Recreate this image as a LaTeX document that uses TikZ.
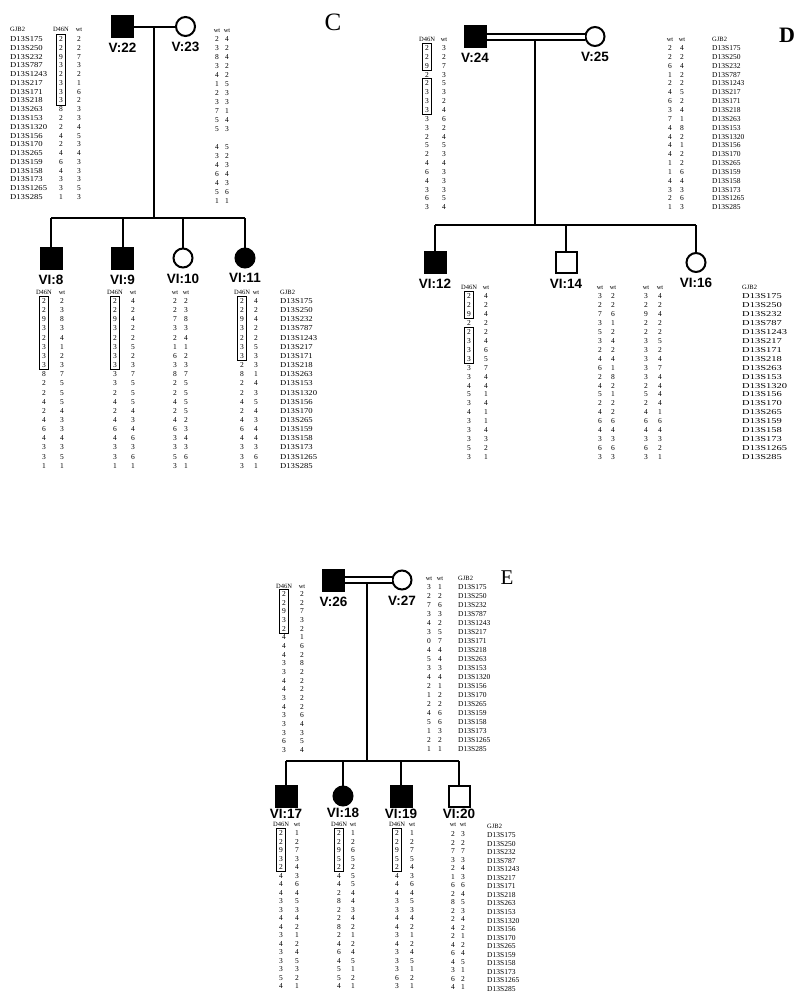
\documentclass[tikz,border=0pt]{standalone}
\usepackage{fontspec}
\setmainfont{Liberation Serif}
\newfontfamily\labfont{Liberation Sans}
\newfontfamily\mkmid[FakeStretch=1.15]{Liberation Serif}
\newfontfamily\mkwide[FakeStretch=1.4]{Liberation Serif}
\usetikzlibrary{positioning, fit}
\tikzstyle{ped}=[line width=2pt]
\tikzstyle{cons}=[line width=2pt,double,double distance=4pt]
\tikzstyle{male}=[draw,rectangle,line width=2pt,minimum size=21pt,inner sep=0pt]
\tikzstyle{female}=[draw,circle,line width=2pt,minimum size=19pt,inner sep=0pt]
\tikzstyle{afm}=[male,fill=black]
\tikzstyle{aff}=[female,fill=black]
\tikzstyle{lab}=[font=\labfont\bfseries\fontsize{13.5}{14}\selectfont,inner sep=0pt]
\tikzstyle{hap}=[font=\fontsize{7.5}{8}\selectfont,inner sep=0pt,text height=5pt,text depth=0pt]
\tikzstyle{hd}=[font=\fontsize{6.5}{7}\selectfont,inner sep=0pt,text height=4.5pt,text depth=0pt]
\tikzstyle{hbox}=[draw,line width=0.9pt,inner xsep=2.5pt,inner ysep=2pt]
\tikzstyle{letter}=[inner sep=0pt]

\def\markers{D13S175,D13S250,D13S232,D13S787,D13S1243,D13S217,D13S171,D13S218,D13S263,D13S153,D13S1320,D13S156,D13S170,D13S265,D13S159,D13S158,D13S173,D13S1265,D13S285}

% name, x, y of header, header, y of first row, row step, alleles
\newcommand{\hapcol}[7]{%
  \node[hd] (#1-0) at (#2,#3) {#4};
  \foreach \al [count=\i] in {#7}
    \node[hap] (#1-\i) at (#2,{#5+(\i-1)*#6}) {\al};}
% name, x, y of header, y of first row, row step, font
\newcommand{\mkcol}[6]{%
  \node[hd,anchor=west] (#1-0) at (#2,#3) {GJB2};
  \foreach \m [count=\i] in \markers
    \node[hap,anchor=west,font=#6\fontsize{7.5}{8}\selectfont] (#1-\i) at (#2,{#4+(\i-1)*#5}) {\m};}

\begin{document}
\begin{tikzpicture}[x=1pt,y=-1pt]
\useasboundingbox (0,0) rectangle (800,1001);

% ---------------- C
\node[afm] (V22) at (122.5,26.5) {};
\node[female] (V23) at (185.5,26.5) {};
\node[lab,below=5pt of V22] (V22l) {V:22};
\node[lab,below=5pt of V23] (V23l) {V:23};
\node[letter,font=\fontsize{25}{25}\selectfont] (Clet) at (333,22) {C};
\coordinate (Ctop) at (154,26.5);
\coordinate (Csib) at (154,218);
\draw[ped] (V22) -- (V23);
\draw[ped] (Ctop) -- (Csib);
\foreach \n/\x/\s/\t in {VI8/51/afm/VI:8, VI9/122.5/afm/VI:9, VI10/183/female/VI:10, VI11/245/aff/VI:11} {
  \node[\s] (\n) at (\x,258) {};
  \node[lab,below=5pt of \n] (\n l) {\t};
  \draw[ped] (\n) -- (\n |- Csib);
}
\draw[ped] (VI8 |- Csib) -- (VI11 |- Csib);

\mkcol{mkCa}{10}{29}{39}{8.78}{\mkmid}
\hapcol{h22d}{61}{29}{D46N}{39}{8.78}{2,2,9,3,2,3,3,3,8,2,2,4,2,4,6,4,3,3,1}
\hapcol{h22w}{79}{29}{wt}{39}{8.78}{2,2,7,3,2,1,6,2,3,3,4,5,3,4,3,3,3,5,3}
\node[hbox,fit=(h22d-1)(h22d-8)] (b22) {};
\hapcol{h23a}{217}{30}{wt}{39}{9}{2,3,8,3,4,1,2,3,7,5,5,{},4,3,4,6,4,5,1}
\hapcol{h23b}{227}{30}{wt}{39}{9}{4,2,4,2,2,5,3,3,1,4,3,{},5,2,3,4,3,6,1}

\hapcol{h8d}{44}{292}{D46N}{301}{9.15}{2,2,9,3,2,3,3,3,8,2,2,4,2,4,6,4,3,3,1}
\hapcol{h8w}{62}{292}{wt}{301}{9.15}{2,3,8,3,4,1,2,3,7,5,5,5,4,3,3,4,3,5,1}
\node[hbox,fit=(h8d-1)(h8d-8)] (b8) {};
\hapcol{h9d}{115}{292}{D46N}{301}{9.15}{2,2,9,3,2,3,3,3,3,3,2,4,2,4,6,4,3,3,1}
\hapcol{h9w}{133}{292}{wt}{301}{9.15}{4,2,4,2,2,5,2,3,7,5,5,5,4,3,4,6,3,6,1}
\node[hbox,fit=(h9d-1)(h9d-8)] (b9) {};
\hapcol{h10a}{175}{292}{wt}{301}{9.15}{2,2,7,3,2,1,6,3,8,2,2,4,2,4,6,3,3,5,3}
\hapcol{h10b}{186}{292}{wt}{301}{9.15}{2,3,8,3,4,1,2,3,7,5,5,5,5,2,3,4,3,6,1}
\hapcol{h11d}{242}{292}{D46N}{301}{9.15}{2,2,9,3,2,3,3,2,8,2,2,4,2,4,6,4,3,3,3}
\hapcol{h11w}{256}{292}{wt}{301}{9.15}{4,2,4,2,2,5,3,3,1,4,3,5,4,3,4,4,3,6,1}
\node[hbox,fit=(h11d-1)(h11d-7)] (b11) {};
\mkcol{mkCb}{280}{292}{301}{9.15}{\mkmid}

% ---------------- D
\node[afm] (V24) at (475,36.5) {};
\node[female] (V25) at (595,36.5) {};
\node[lab,below=5pt of V24] (V24l) {V:24};
\node[lab,below=5pt of V25] (V25l) {V:25};
\node[letter,font=\bfseries\fontsize{22}{22}\selectfont] (Dlet) at (787,35) {D};
\coordinate (Dtop) at (535,36.5);
\coordinate (Dsib) at (535,225);
\draw[ped] (Dtop) -- (Dsib);
\draw[cons] (V24) -- (V25);
\foreach \n/\x/\s/\t in {VI12/435/afm/VI:12, VI14/566/male/VI:14, VI16/696/female/VI:16} {
  \node[\s] (\n) at (\x,262.5) {};
  \node[lab,below=5pt of \n] (\n l) {\t};
  \draw[ped] (\n) -- (\n |- Dsib);
}
\draw[ped] (VI12 |- Dsib) -- (VI16 |- Dsib);

\hapcol{h24d}{427}{39}{D46N}{48}{8.85}{2,2,9,2,2,3,3,3,3,3,2,5,2,4,6,4,3,6,3}
\hapcol{h24w}{444}{39}{wt}{48}{8.85}{3,2,7,3,5,3,2,4,6,2,4,5,3,4,3,3,3,5,4}
\node[hbox,fit=(h24d-1)(h24d-3)] (b24a) {};
\node[hbox,fit=(h24d-5)(h24d-8)] (b24b) {};
\hapcol{h25a}{670}{39}{wt}{48}{8.85}{2,2,6,1,2,4,6,3,7,4,4,4,4,1,1,4,3,2,1}
\hapcol{h25b}{682}{39}{wt}{48}{8.85}{4,2,4,2,2,5,2,4,1,8,2,1,2,2,6,4,3,6,3}
\mkcol{mkDa}{712}{39}{48}{8.85}{}

\hapcol{h12d}{469}{287}{D46N}{296}{8.95}{2,2,9,2,2,3,3,3,3,3,4,5,3,4,3,3,3,5,3}
\hapcol{h12w}{486}{287}{wt}{296}{8.95}{4,2,4,2,2,4,6,5,7,4,4,1,4,1,1,4,3,2,1}
\node[hbox,fit=(h12d-1)(h12d-3)] (b12a) {};
\node[hbox,fit=(h12d-5)(h12d-8)] (b12b) {};
\hapcol{h14a}{600}{287}{wt}{296}{8.95}{3,2,7,3,5,3,2,4,6,2,4,5,2,4,6,4,3,6,3}
\hapcol{h14b}{613}{287}{wt}{296}{8.95}{2,2,6,1,2,4,2,4,1,8,2,1,2,2,6,4,3,6,3}
\hapcol{h16a}{646}{287}{wt}{296}{8.95}{3,2,9,2,2,3,3,3,3,3,2,5,2,4,6,4,3,6,3}
\hapcol{h16b}{660}{287}{wt}{296}{8.95}{4,2,4,2,2,5,2,4,7,4,4,4,4,1,6,4,3,2,1}
\mkcol{mkDb}{742}{287}{296}{8.95}{\mkwide}

% ---------------- E
\node[afm] (V26) at (333.5,580) {};
\node[female] (V27) at (402,580) {};
\node[lab,below=5pt of V26] (V26l) {V:26};
\node[lab,below=5pt of V27] (V27l) {V:27};
\node[letter,font=\fontsize{21}{21}\selectfont] (Elet) at (507,578) {E};
\coordinate (Etop) at (367,580);
\coordinate (Esib) at (367,761);
\draw[ped] (Etop) -- (Esib);
\draw[cons] (V26) -- (V27);
\foreach \n/\x/\s/\t in {VI17/286/afm/VI:17, VI18/343/aff/VI:18, VI19/401/afm/VI:19, VI20/459/male/VI:20} {
  \node[\s] (\n) at (\x,796) {};
  \node[lab,below=1.5pt of \n] (\n l) {\t};
  \draw[ped] (\n) -- (\n |- Esib);
}
\draw[ped] (VI17 |- Esib) -- (VI20 |- Esib);

\hapcol{h26d}{284}{586}{D46N}{594}{8.67}{2,2,9,3,2,4,4,4,3,3,4,4,3,4,3,3,3,6,3}
\hapcol{h26w}{302}{586}{wt}{594}{8.67}{2,2,7,3,2,1,6,2,8,2,2,2,2,2,6,4,3,5,4}
\node[hbox,fit=(h26d-1)(h26d-5)] (b26) {};
\hapcol{h27a}{429}{578}{wt}{587}{9}{3,2,7,3,4,3,0,4,5,3,4,2,1,2,4,5,1,2,1}
\hapcol{h27b}{440}{578}{wt}{587}{9}{1,2,6,3,2,5,7,4,4,3,4,1,2,2,6,6,3,2,1}
\mkcol{mkEa}{458}{578}{587}{9}{}

\hapcol{h17d}{281}{824}{D46N}{833}{8.5}{2,2,9,3,2,4,4,4,3,3,4,4,3,4,3,3,3,5,4}
\hapcol{h17w}{297}{824}{wt}{833}{8.5}{1,2,7,3,4,3,6,4,5,3,4,2,1,2,4,5,3,2,1}
\node[hbox,fit=(h17d-1)(h17d-5)] (b17) {};
\hapcol{h18d}{339}{824}{D46N}{833}{8.5}{2,2,9,5,2,4,4,2,8,2,2,8,2,4,6,4,5,5,4}
\hapcol{h18w}{353}{824}{wt}{833}{8.5}{1,2,6,5,2,5,5,4,4,3,4,2,1,2,4,5,1,2,1}
\node[hbox,fit=(h18d-1)(h18d-5)] (b18) {};
\hapcol{h19d}{397}{824}{D46N}{833}{8.5}{2,2,9,5,2,4,4,4,3,3,4,4,3,4,3,3,3,6,3}
\hapcol{h19w}{412}{824}{wt}{833}{8.5}{1,2,7,5,4,3,6,4,5,3,4,2,1,2,4,5,1,2,1}
\node[hbox,fit=(h19d-1)(h19d-5)] (b19) {};
\hapcol{h20a}{453}{824}{wt}{834}{8.5}{2,2,7,3,2,1,6,2,8,2,2,4,2,4,6,4,3,6,4}
\hapcol{h20b}{463}{824}{wt}{834}{8.5}{3,2,7,3,4,3,6,4,5,3,4,2,1,2,4,5,1,2,1}
\mkcol{mkEb}{487}{826}{835}{8.55}{}
\end{tikzpicture}
\end{document}
